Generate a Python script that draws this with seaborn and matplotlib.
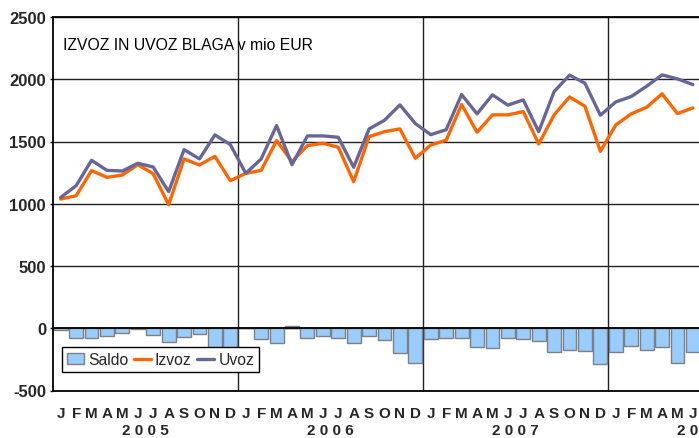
import pandas as pd
import matplotlib
matplotlib.use("Agg")
import matplotlib.pyplot as plt
from matplotlib.patches import Patch
from matplotlib.lines import Line2D
import seaborn as sns

# monthly data, Jan 2005 - Jun 2008 (mio EUR)
months = ["J", "F", "M", "A", "M", "J", "J", "A", "S", "O", "N", "D"] * 3 + ["J", "F", "M", "A", "M", "J"]
years = ["2 0 0 5", "2 0 0 6", "2 0 0 7", "2 0 0 8"]

izvoz = [1038, 1064, 1266, 1212, 1231, 1314, 1241, 992, 1360, 1311, 1381, 1185,
         1244, 1268, 1507, 1338, 1467, 1486, 1454, 1177, 1539, 1579, 1601, 1365,
         1472, 1510, 1797, 1574, 1714, 1714, 1740, 1480, 1714, 1858, 1783, 1421,
         1633, 1722, 1775, 1883, 1724, 1770]
uvoz = [1051, 1145, 1349, 1268, 1263, 1325, 1295, 1097, 1435, 1360, 1553, 1475,
        1244, 1360, 1628, 1314, 1545, 1545, 1534, 1293, 1601, 1671, 1794, 1644,
        1555, 1595, 1877, 1722, 1875, 1792, 1834, 1579, 1901, 2033, 1968, 1711,
        1818, 1861, 1944, 2035, 2003, 1957]
saldo = [-16, -80, -80, -62, -35, -8, -58, -108, -72, -50, -172, -290,
         3, -90, -121, 20, -80, -60, -78, -115, -65, -93, -195, -282,
         -86, -82, -80, -147, -162, -79, -90, -103, -192, -178, -186, -287,
         -188, -139, -171, -151, -279, -188]

idx = list(range(len(months)))
bars = pd.DataFrame({"idx": idx, "saldo": saldo})
lines = pd.melt(pd.DataFrame({"idx": idx, "Izvoz": izvoz, "Uvoz": uvoz}),
                id_vars=["idx"], value_vars=["Izvoz", "Uvoz"])

sns.set_theme(style="white")
plt.rcParams["font.family"] = ["Liberation Sans", "DejaVu Sans"]

fig = plt.figure(figsize=(6.99, 4.39), dpi=100)
ax = fig.add_axes([53 / 699, 47.5 / 439, 647.6 / 699, 373.5 / 439])

ax.grid(axis="y", color="#222222", linewidth=1, zorder=0)
ax.set_axisbelow(True)
for xv in [11.5, 23.5, 35.5]:
    ax.axvline(xv, color="#222222", linewidth=1, zorder=1)

sns.barplot(bars, x="idx", y="saldo", color="#99CCFF", edgecolor="#808080",
            linewidth=1, width=0.9, saturation=1, ax=ax, zorder=2)
ax.axhline(0, color="black", linewidth=1.3, zorder=3)
sns.lineplot(lines, x="idx", y="value", hue="variable",
             palette={"Izvoz": "#FF6600", "Uvoz": "#666699"},
             linewidth=2.4, legend=False, ax=ax, zorder=4)

ax.set_xlim(-0.5, 41.5)
ax.set_ylim(-500, 2500)
ax.set_yticks(range(-500, 2501, 500))
ax.set_yticklabels([str(v) for v in range(-500, 2501, 500)], fontsize=12, fontweight="bold")
ax.set_xticks(idx)
ax.set_xticklabels(months, fontsize=11, fontweight="bold")
ax.tick_params(axis="x", length=0, pad=11.5)
ax.tick_params(axis="y", length=2.5, width=1, pad=2.5, left=True, color="black")
ax.set_xlabel("")
ax.set_ylabel("")

for i, yr in enumerate(years):
    ax.text(5.5 + 12 * i, -0.105, yr, transform=ax.get_xaxis_transform(),
            ha="center", va="center", fontsize=11, fontweight="bold", clip_on=False)

for side in ["left", "bottom", "top"]:
    ax.spines[side].set_color("black")
    ax.spines[side].set_linewidth(1.3)
ax.spines["right"].set_visible(False)

ax.text(0.015, 0.927, "IZVOZ IN UVOZ BLAGA v mio EUR", transform=ax.transAxes,
        fontsize=11.3, ha="left", va="center", color="black")

handles = [Patch(facecolor="#99CCFF", edgecolor="#808080", label="Saldo"),
           Line2D([], [], color="#FF6600", linewidth=2.4, label="Izvoz"),
           Line2D([], [], color="#666699", linewidth=2.4, label="Uvoz")]
leg = ax.legend(handles=handles, loc="lower left", bbox_to_anchor=(0.0139, 0.05),
                borderaxespad=0, ncol=3, fontsize=11.3, frameon=True, fancybox=False,
                handlelength=1.1, handletextpad=0.25, columnspacing=0.35,
                borderpad=0.3, framealpha=1)
leg.get_frame().set_edgecolor("black")
leg.get_frame().set_linewidth(1)
leg.set_zorder(10)

fig.savefig("out.png", dpi=100)
